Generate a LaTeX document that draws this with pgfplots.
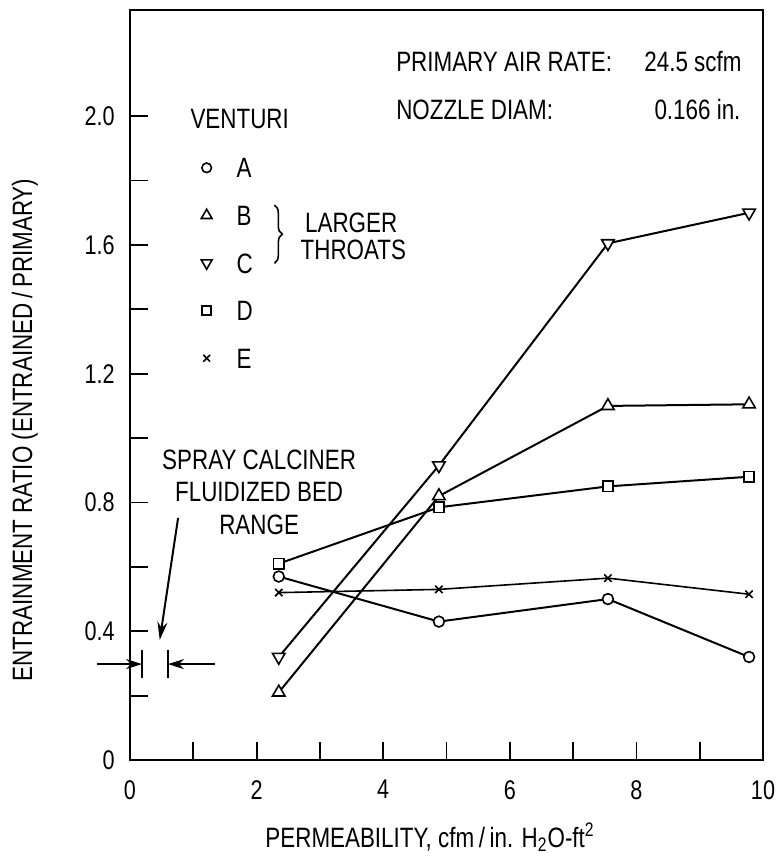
\documentclass[border=0pt]{standalone}
\usepackage{fontspec}
\setmainfont{Liberation Sans}[FakeStretch=0.80]
\usepackage{pgfplots}
\pgfplotsset{compat=1.18}
\usetikzlibrary{calc,arrows.meta,decorations.pathreplacing}

\tikzset{mk/.style={solid, fill=white, line width=0.8pt}}
\pgfplotsset{
  legend image code/.code={\path[draw=none] (0pt,0pt) -- (15pt,0pt);\draw[#1] plot coordinates {(0pt,0pt)};},
}

\begin{document}
\fontsize{14}{16.25}\selectfont
\begin{tikzpicture}
\begin{axis}[
    width=316.5pt, height=375pt, scale only axis,
    xmin=0, xmax=10, ymin=0, ymax=2.33,
    xtick={0,2,4,6,8,10}, xticklabels={0,2,4,6,8,10},
    ytick={0,0.4,0.8,1.2,1.6,2.0}, yticklabels={0,0.4,0.8,1.2,1.6,2.0},
    minor x tick num=1, minor y tick num=1,
    tick pos=left, tick align=inside,
    major tick length=9pt, minor tick length=9pt,
    axis line style={line width=1.2pt}, tick style={line width=0.9pt, black},
    tick label style={font=\fontsize{13.5}{15}\selectfont},
    xticklabel style={anchor=north, inner sep=0pt, yshift=-10pt},
    yticklabel style={anchor=east, inner sep=0pt, xshift=-7.5pt},
    every axis x label/.style={at={(axis description cs:0.474,0)}, anchor=base, yshift=-43.5pt},
    every axis y label/.style={at={(axis description cs:-0.166,0.44)}, rotate=90, anchor=center},
    xlabel={PERMEABILITY, cfm\,/\,in. H\textsubscript{2}O-ft\textsuperscript{2}},
    ylabel={ENTRAINMENT RATIO (ENTRAINED\,/\,PRIMARY)},
    clip=false,
    legend cell align=left,
    legend style={at={(axis cs:1.12,1.872)}, anchor=north west, draw=none, fill=none,
                  inner sep=0pt, row sep=13.8pt,
                  nodes={inner sep=0pt, text height=10pt, text depth=0pt}},
  ]
  % venturi A
  \addplot[forget plot, line width=1pt, mark=*, mark size=2.7pt, mark options={mk}]
    coordinates {(2.35,0.57) (4.88,0.43) (7.55,0.50) (9.78,0.32)};
  % venturi B
  \addplot[forget plot, line width=1pt, mark=triangle*, mark size=3.6pt, mark options={mk}]
    coordinates {(2.35,0.21) (4.88,0.82) (7.55,1.10) (9.78,1.105)};
  % venturi C
  \addplot[forget plot, line width=1pt, mark=triangle*, mark size=3.6pt, mark options={mk, rotate=180}]
    coordinates {(2.35,0.32) (4.88,0.915) (7.55,1.605) (9.78,1.70)};
  % venturi D
  \addplot[forget plot, line width=1pt, mark=square*, mark size=2.6pt, mark options={mk}]
    coordinates {(2.35,0.61) (4.88,0.785) (7.55,0.85) (9.78,0.88)};
  % venturi E
  \addplot[forget plot, line width=0.8pt, mark=x, mark size=2.6pt, mark options={mk}]
    coordinates {(2.35,0.52) (4.88,0.53) (7.55,0.565) (9.78,0.515)};

  \addlegendimage{only marks, mark=*, mark size=2.4pt, mark options={mk}}
  \addlegendimage{only marks, mark=triangle*, mark size=3.1pt, mark options={mk}}
  \addlegendimage{only marks, mark=triangle*, mark size=3.1pt, mark options={mk, rotate=180}}
  \addlegendimage{only marks, mark=square*, mark size=2.2pt, mark options={mk}}
  \addlegendimage{only marks, mark=x, mark size=2.4pt, mark options={mk}}
  \legend{A,B,C,D,E}

  \node[anchor=west, inner sep=0pt] at (axis cs:0.95,1.99) {VENTURI};
  \draw[line width=0.8pt, decorate, decoration={brace, amplitude=4pt}]
    (axis cs:2.28,1.724) -- (axis cs:2.28,1.543);
  \node[anchor=west, inner sep=0pt] at (axis cs:2.76,1.668) {LARGER};
  \node[anchor=west, inner sep=0pt] at (axis cs:2.69,1.584) {THROATS};

  \node[anchor=west, inner sep=0pt] at (axis cs:4.20,2.17) {PRIMARY AIR RATE:};
  \node[anchor=west, inner sep=0pt] at (axis cs:8.12,2.17) {24.5 scfm};
  \node[anchor=west, inner sep=0pt] at (axis cs:4.20,2.02) {NOZZLE DIAM:};
  \node[anchor=west, inner sep=0pt] at (axis cs:8.28,2.02) {0.166 in.};

  \node[align=center, inner sep=0pt] at (axis cs:2.04,0.832) {SPRAY CALCINER\\FLUIDIZED BED\\RANGE};
  \draw[line width=1pt, -{Stealth[length=9pt, width=5pt]}] (axis cs:0.76,0.752) -- (axis cs:0.47,0.373);
  \draw[line width=1.2pt] (axis cs:0.19,0.255) -- (axis cs:0.19,0.342);
  \draw[line width=1.2pt] (axis cs:0.60,0.255) -- (axis cs:0.60,0.342);
  \draw[line width=1.1pt, -{Stealth[length=8pt, width=5pt]}] (axis cs:-0.52,0.298) -- (axis cs:0.19,0.298);
  \draw[line width=1.1pt, -{Stealth[length=8pt, width=5pt]}] (axis cs:1.34,0.298) -- (axis cs:0.60,0.298);
\end{axis}
\path ($(current axis.south west)+(-65pt,-50.5pt)$) rectangle ($(current axis.north east)+(7pt,5pt)$);
\end{tikzpicture}
\end{document}
